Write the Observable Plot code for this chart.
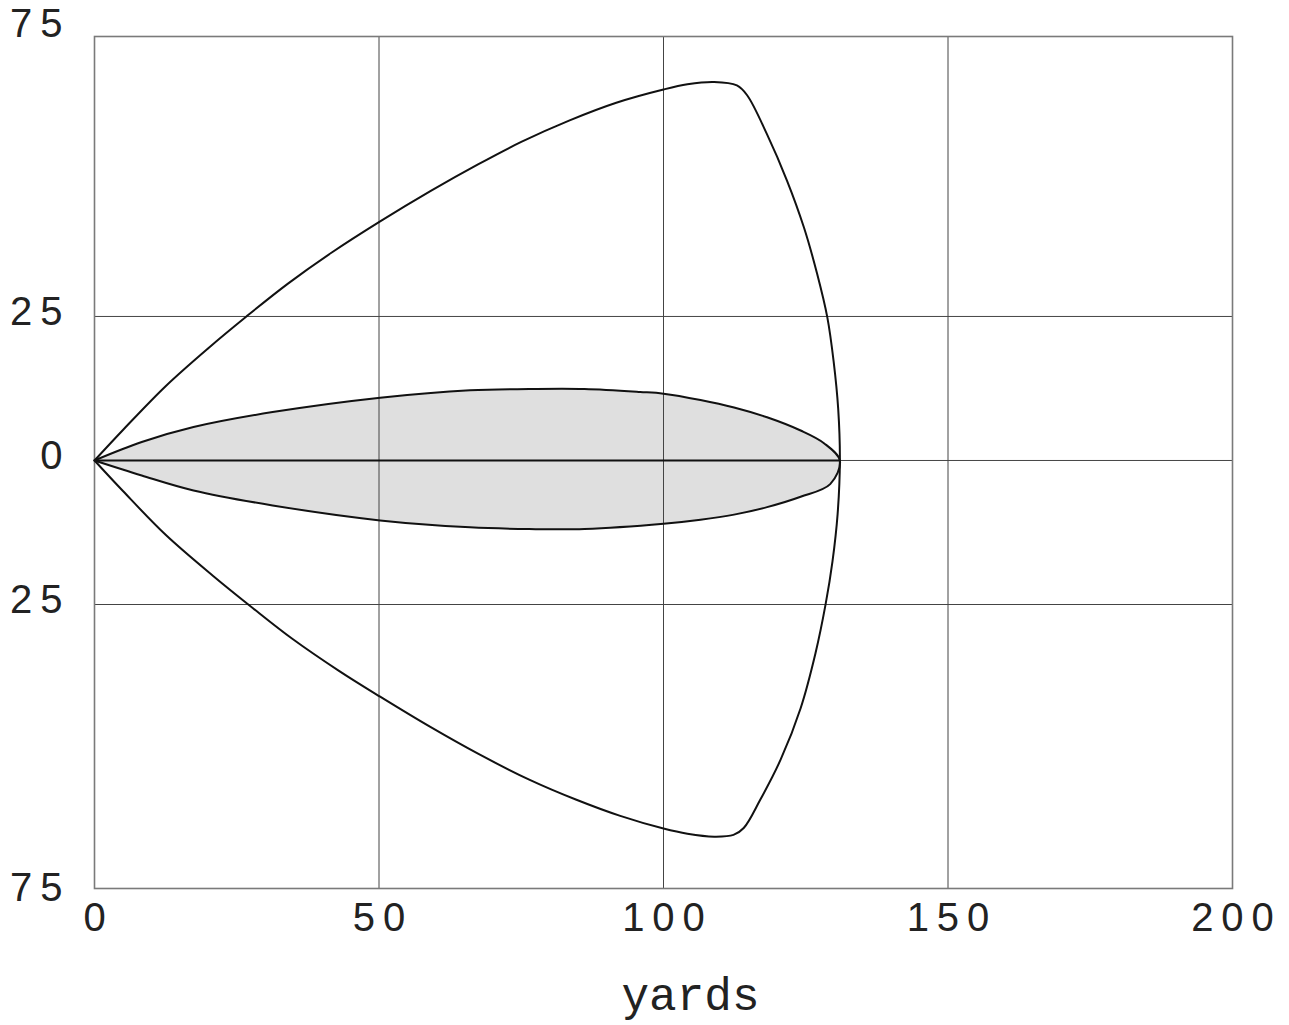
<!DOCTYPE html>
<html>
<head>
<meta charset="utf-8">
<script src="https://cdn.jsdelivr.net/npm/d3@7"></script>
<script src="https://cdn.jsdelivr.net/npm/@observablehq/plot@0.6"></script>
<style>
  body { margin: 0; background: #fff; }
  g[aria-label="x-axis tick label"] text,
  g[aria-label="y-axis tick label"] text { letter-spacing: 8px; }
</style>
</head>
<body>
<div id="chart"></div>
<script>
// Tick values
const xTicks = [0, 50, 100, 150, 200];
const yTicks = [-75, -25, 0, 25, 75];
const xGrid = [50, 100, 150];
const yGrid = [-25, 0, 25];

// Outer envelope, upper branch (yards, yards)
const outerUpperX = [0, 5, 12.5, 20, 26.7, 34, 41.7, 50.2, 59.1, 67.4, 75, 83.4, 91.7, 100, 104.2, 108.9, 112.9, 114.7, 118.2, 121.7, 124.7, 127, 128.8, 129.9, 130.7, 131];
const outerUpperY = [0, 5.3, 12.9, 19.5, 25.0, 30.7, 36.1, 41.5, 46.8, 51.4, 55.3, 59.0, 62.1, 64.4, 65.3, 65.7, 65.1, 63.4, 56.6, 48.6, 40.4, 32.4, 24.8, 17.2, 9.0, 0];
// Outer envelope, lower branch
const outerLowerX = [0, 5, 12.5, 20.8, 27.8, 34.7, 43.1, 50.2, 59.1, 67.4, 76.4, 84.7, 92.4, 100, 104.2, 108.9, 112.3, 114.1, 117, 120.6, 124.1, 126.7, 128.5, 129.7, 130.6, 131];
const outerLowerY = [0, -5.3, -12.9, -20.0, -25.6, -30.9, -36.6, -41.0, -46.3, -50.9, -55.4, -58.9, -61.7, -63.9, -64.8, -65.3, -65.0, -63.8, -58.9, -51.9, -43.0, -33.5, -24.9, -17.5, -9.3, 0];

// Inner (shaded) region, upper edge
const innerUpperX = [0, 8.3, 17.4, 31.3, 50.2, 66, 76.4, 86.1, 95.9, 100, 106.5, 112.4, 118.2, 124.1, 128.2, 131];
const innerUpperY = [0, 3.2, 5.8, 8.4, 10.9, 12.2, 12.4, 12.4, 11.9, 11.6, 10.5, 9.2, 7.5, 5.2, 3.0, 0];
// Inner region, lower edge
const innerLowerX = [0, 8.3, 17.4, 31.3, 50.2, 66, 76.4, 86.1, 100, 106.5, 112.4, 118.2, 124.1, 129.3, 131];
const innerLowerY = [0, -2.6, -5.2, -7.8, -10.4, -11.6, -11.9, -11.9, -11.0, -10.3, -9.4, -8.1, -6.3, -4.1, 0];

const pts = (xs, ys) => xs.map((x, i) => ({x, y: ys[i]}));
const outerPath = [...pts(outerUpperX, outerUpperY), ...pts(outerLowerX, outerLowerY).reverse().slice(1)];
const innerPoly = [...pts(innerUpperX, innerUpperY), ...pts(innerLowerX, innerLowerY).reverse().slice(1)];
const centerLine = [{x: innerUpperX[0], y: 0}, {x: innerUpperX[innerUpperX.length - 1], y: 0}];

const chart = Plot.plot({
  width: 1289,
  height: 1025,
  marginLeft: 94,
  marginRight: 57,
  marginTop: 36,
  marginBottom: 137,
  x: {domain: [0, 200]},
  y: {domain: [-74.3, 73.6]},
  style: {background: "#fff", color: "#000"},
  marks: [
    Plot.line(innerPoly, {x: "x", y: "y", fill: "#dfdfdf", stroke: "none", curve: "catmull-rom"}),
    Plot.gridX(xGrid, {stroke: "#444", strokeOpacity: 1, strokeWidth: 1}),
    Plot.gridY(yGrid, {stroke: "#444", strokeOpacity: 1, strokeWidth: 1}),
    Plot.frame({stroke: "#7a7a7a", strokeWidth: 1.6}),
    Plot.line(centerLine, {x: "x", y: "y", stroke: "#111", strokeWidth: 1.8}),
    Plot.line(innerPoly, {x: "x", y: "y", stroke: "#111", strokeWidth: 2, curve: "catmull-rom"}),
    Plot.line(outerPath, {x: "x", y: "y", stroke: "#111", strokeWidth: 2, curve: "catmull-rom"}),
    Plot.axisX({ticks: xTicks, tickSize: 0, tickPadding: 14, fontSize: 40, fontFamily: "Liberation Sans", label: null, dx: 4, fill: "#222"}),
    Plot.axisY({ticks: yTicks, tickSize: 0, tickPadding: 24, fontSize: 40, fontFamily: "Liberation Sans", tickFormat: d => Math.abs(d), label: null, dy: -4.5, fill: "#222"}),
    Plot.text(["yards"], {frameAnchor: "bottom", dx: 27, dy: 121, lineAnchor: "bottom", fontSize: 46, fontFamily: "Liberation Mono", fill: "#222"})
  ]
});
document.getElementById("chart").appendChild(chart);
</script>
</body>
</html>
